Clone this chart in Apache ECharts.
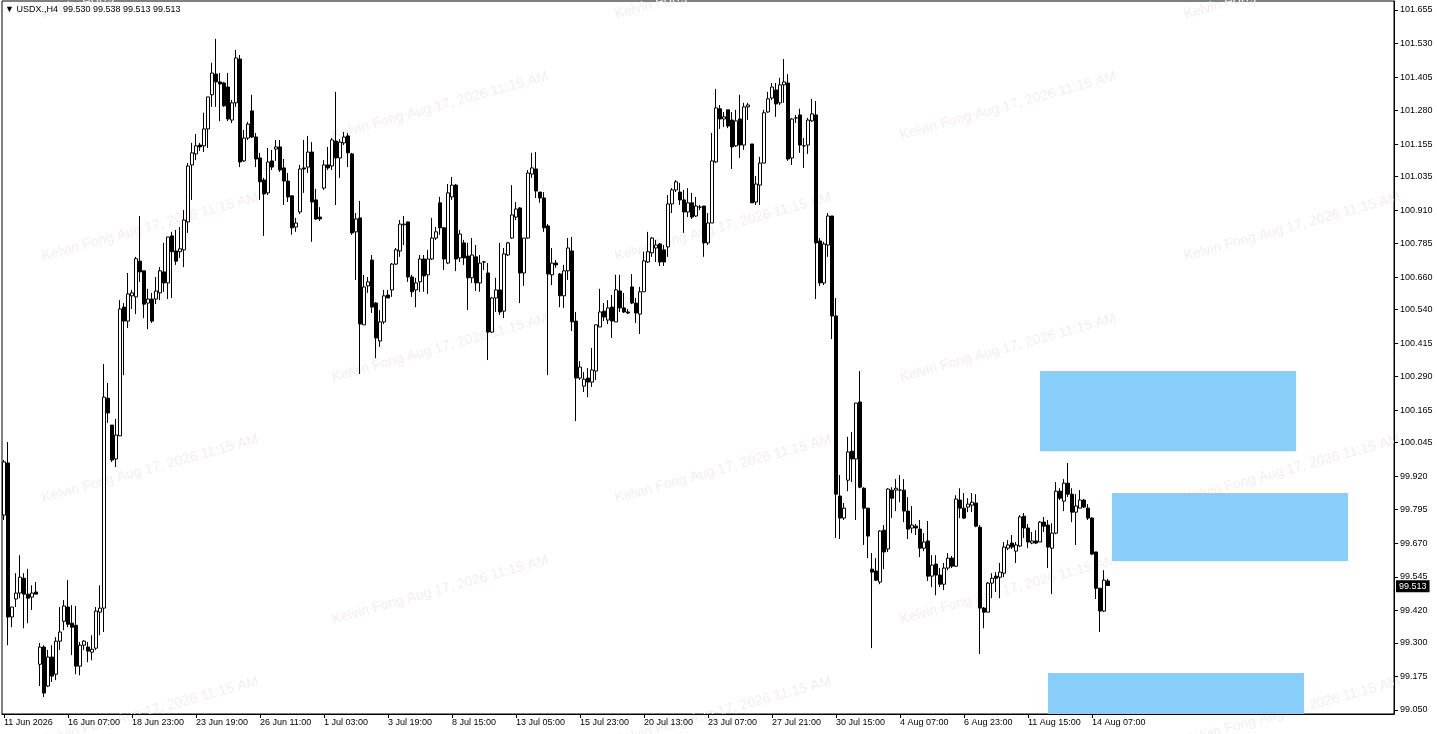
<!DOCTYPE html>
<html><head><meta charset="utf-8">
<script src="https://cdn.jsdelivr.net/npm/echarts@6/dist/echarts.min.js"></script>
<style>html,body{margin:0;padding:0;background:#fff}#c{width:1437px;height:734px}</style>
</head><body><div id="c"></div>
<script>
const openP=[99.775,99.969,99.396,99.463,99.485,99.540,99.481,99.470,99.489,99.220,99.284,99.139,99.247,99.183,99.306,99.380,99.433,99.373,99.365,99.213,99.291,99.284,99.265,99.280,99.414,99.429,100.210,100.110,99.984,100.070,100.549,100.497,100.591,100.587,100.720,100.684,100.564,100.579,100.579,100.602,100.680,100.639,100.814,100.758,100.755,100.762,100.866,101.078,101.119,101.152,101.149,101.212,101.339,101.416,101.387,101.383,101.368,101.245,101.309,101.472,101.093,101.178,101.279,101.182,101.104,101.022,100.974,101.093,101.137,101.145,101.067,101.018,100.963,100.847,100.903,101.067,101.070,101.126,100.948,100.884,100.992,101.078,101.074,101.167,101.104,101.160,101.186,101.119,100.829,100.881,100.483,100.628,100.724,100.564,100.423,100.494,100.594,100.613,100.709,100.758,100.855,100.866,100.661,100.613,100.643,100.728,100.669,100.728,100.806,100.937,100.844,100.713,100.959,101.003,100.732,100.788,100.739,100.658,100.736,100.639,100.717,100.676,100.456,100.583,100.613,100.534,100.743,100.806,100.884,100.918,100.676,100.806,101.044,101.063,100.977,100.955,100.851,100.669,100.713,100.672,100.591,100.684,100.758,100.497,100.285,100.255,100.285,100.270,100.311,100.475,100.534,100.501,100.549,100.494,100.609,100.546,100.531,100.624,100.564,100.523,100.606,100.717,100.751,100.769,100.784,100.762,100.773,100.933,100.985,100.977,100.948,100.903,100.937,100.888,100.921,100.925,100.788,100.862,101.089,101.287,101.249,101.283,101.245,101.149,101.249,101.152,101.294,101.156,100.940,101.003,101.085,101.275,101.327,101.357,101.309,101.376,101.383,101.104,101.253,101.264,101.149,101.152,101.242,101.264,100.795,100.639,100.780,100.888,100.516,99.846,99.764,99.905,100.013,99.984,100.196,99.875,99.801,99.574,99.567,99.526,99.719,99.649,99.868,99.868,99.868,99.868,99.790,99.727,99.734,99.723,99.652,99.679,99.548,99.593,99.552,99.518,99.578,99.615,99.585,99.831,99.801,99.805,99.812,99.820,99.730,99.429,99.414,99.522,99.548,99.544,99.559,99.652,99.671,99.641,99.660,99.771,99.727,99.671,99.679,99.675,99.749,99.738,99.652,99.708,99.864,99.827,99.894,99.853,99.786,99.801,99.831,99.801,99.764,99.638,99.503,99.418,99.530];
const closeP=[99.973,99.396,99.433,99.485,99.544,99.481,99.466,99.485,99.481,99.284,99.113,99.247,99.176,99.306,99.340,99.437,99.369,99.358,99.213,99.291,99.306,99.269,99.276,99.418,99.429,100.214,100.155,99.980,100.073,100.542,100.497,100.598,100.602,100.729,100.680,100.560,100.579,100.497,100.609,100.684,100.639,100.810,100.755,100.720,100.766,100.873,101.074,101.123,101.149,101.145,101.212,101.331,101.420,101.387,101.379,101.298,101.249,101.309,101.476,101.089,101.178,101.230,101.182,101.100,101.015,100.970,101.089,101.070,101.145,101.059,101.018,100.959,100.844,100.862,101.063,101.063,101.126,100.940,100.877,100.877,101.078,101.067,101.171,101.104,101.163,101.182,101.123,100.825,100.877,100.486,100.624,100.643,100.549,100.434,100.494,100.591,100.583,100.709,100.762,100.858,100.858,100.661,100.606,100.639,100.728,100.665,100.728,100.806,100.829,100.844,100.728,100.974,101.003,100.728,100.821,100.732,100.658,100.743,100.639,100.713,100.717,100.456,100.583,100.613,100.531,100.747,100.788,100.892,100.914,100.676,100.806,101.048,101.067,100.981,100.955,100.844,100.672,100.713,100.706,100.591,100.684,100.769,100.494,100.285,100.326,100.281,100.270,100.315,100.483,100.531,100.512,100.546,100.497,100.613,100.546,100.531,100.527,100.564,100.527,100.606,100.721,100.755,100.806,100.780,100.717,100.717,100.933,100.985,101.015,100.948,100.903,100.937,100.884,100.925,100.921,100.788,100.862,101.093,101.290,101.249,101.257,101.223,101.145,101.242,101.152,101.294,101.301,100.937,101.007,101.085,101.272,101.324,101.368,101.305,101.376,101.387,101.100,101.249,101.253,101.152,101.149,101.245,101.268,100.788,100.639,100.784,100.888,100.516,99.853,99.764,99.801,100.010,99.984,100.192,99.879,99.801,99.697,99.563,99.533,99.716,99.638,99.872,99.838,99.875,99.868,99.790,99.723,99.738,99.727,99.652,99.675,99.548,99.589,99.552,99.518,99.578,99.615,99.585,99.835,99.801,99.764,99.816,99.823,99.734,99.429,99.414,99.522,99.540,99.540,99.563,99.656,99.664,99.656,99.664,99.768,99.727,99.675,99.679,99.671,99.749,99.734,99.656,99.708,99.864,99.838,99.894,99.853,99.786,99.809,99.831,99.805,99.764,99.630,99.503,99.418,99.533,99.513];
const lowP=[99.757,99.291,99.358,99.433,99.466,99.354,99.373,99.422,99.481,99.139,99.098,99.135,99.154,99.161,99.273,99.347,99.358,99.254,99.183,99.179,99.273,99.228,99.235,99.273,99.328,99.340,100.118,99.973,99.954,100.070,100.296,100.471,100.542,100.523,100.643,100.508,100.467,100.490,100.560,100.575,100.606,100.579,100.583,100.706,100.732,100.698,100.825,100.948,101.096,101.130,101.126,101.141,101.294,101.294,101.241,101.294,101.241,101.234,101.294,101.070,101.089,101.171,101.178,101.070,100.948,100.814,100.966,101.059,101.093,101.052,100.929,100.940,100.818,100.829,100.895,100.974,101.048,100.792,100.873,100.869,100.985,101.059,101.059,100.929,101.030,101.152,101.070,100.818,100.650,100.300,100.483,100.602,100.527,100.359,100.401,100.486,100.583,100.587,100.706,100.736,100.780,100.643,100.587,100.549,100.606,100.606,100.598,100.724,100.799,100.818,100.687,100.709,100.948,100.683,100.717,100.706,100.538,100.639,100.609,100.606,100.687,100.352,100.453,100.531,100.520,100.508,100.739,100.803,100.873,100.564,100.628,100.803,101.030,100.955,100.937,100.829,100.296,100.631,100.695,100.549,100.546,100.650,100.460,100.125,100.278,100.233,100.214,100.252,100.278,100.475,100.497,100.486,100.434,100.494,100.531,100.527,100.523,100.560,100.490,100.449,100.606,100.713,100.736,100.717,100.702,100.702,100.736,100.899,100.977,100.929,100.825,100.884,100.877,100.884,100.910,100.736,100.780,100.862,101.085,101.212,101.219,101.215,101.063,101.145,101.104,101.134,101.245,100.937,100.929,100.929,101.085,101.272,101.320,101.257,101.301,101.309,101.093,101.078,101.234,101.123,101.067,101.119,101.238,100.579,100.628,100.631,100.736,100.430,99.690,99.686,99.757,99.864,99.898,99.757,99.875,99.664,99.615,99.280,99.530,99.518,99.574,99.638,99.764,99.790,99.823,99.749,99.686,99.708,99.701,99.619,99.641,99.530,99.507,99.477,99.507,99.496,99.570,99.578,99.582,99.764,99.760,99.786,99.786,99.730,99.258,99.354,99.414,99.466,99.489,99.466,99.544,99.645,99.649,99.597,99.656,99.690,99.652,99.667,99.667,99.675,99.712,99.578,99.481,99.704,99.831,99.790,99.842,99.749,99.664,99.801,99.801,99.757,99.626,99.463,99.340,99.414,99.513];
const highP=[99.980,100.047,99.433,99.559,99.626,99.559,99.575,99.514,99.526,99.299,99.291,99.273,99.291,99.321,99.433,99.459,99.533,99.440,99.437,99.303,99.310,99.303,99.328,99.433,99.514,100.337,100.267,100.110,100.133,100.575,100.564,100.676,100.613,100.736,100.888,100.684,100.617,100.602,100.661,100.698,100.788,100.810,100.829,100.836,100.847,100.910,101.085,101.160,101.193,101.160,101.272,101.331,101.458,101.547,101.420,101.387,101.420,101.320,101.506,101.487,101.208,101.238,101.339,101.197,101.123,101.030,101.141,101.134,101.171,101.171,101.100,101.048,100.966,100.881,101.078,101.171,101.186,101.163,100.989,100.921,101.096,101.145,101.178,101.350,101.174,101.201,101.197,101.123,100.899,100.944,100.669,100.661,100.743,100.568,100.538,100.613,100.613,100.713,100.769,100.873,100.888,100.866,100.669,100.658,100.743,100.743,100.762,100.881,100.847,100.959,100.847,101.007,101.033,101.007,100.836,100.799,100.788,100.806,100.780,100.743,100.721,100.713,100.587,100.658,100.788,100.769,100.792,101.003,100.940,100.921,100.806,101.059,101.123,101.126,100.977,100.977,100.858,100.769,100.724,100.676,100.706,100.806,100.810,100.531,100.348,100.307,100.322,100.397,100.483,100.617,100.564,100.575,100.594,100.669,100.669,100.602,100.542,100.672,100.583,100.624,100.755,100.829,100.810,100.799,100.788,100.780,100.966,100.992,101.022,101.011,100.985,100.992,100.974,100.959,100.929,100.925,100.899,101.197,101.361,101.301,101.275,101.283,101.275,101.283,101.339,101.309,101.309,101.156,101.037,101.108,101.283,101.350,101.383,101.383,101.402,101.472,101.416,101.253,101.264,101.287,101.178,101.253,101.324,101.316,100.806,100.792,100.899,100.888,100.583,99.924,99.820,100.066,100.084,100.192,100.311,99.879,99.801,99.634,99.615,99.719,99.738,99.875,99.879,99.909,99.924,99.909,99.842,99.809,99.742,99.757,99.708,99.753,99.626,99.626,99.578,99.597,99.634,99.623,99.849,99.875,99.857,99.838,99.857,99.853,99.738,99.433,99.526,99.559,99.563,99.597,99.675,99.682,99.701,99.675,99.775,99.783,99.742,99.712,99.719,99.753,99.768,99.757,99.745,99.898,99.875,99.909,99.969,99.875,99.853,99.868,99.835,99.816,99.768,99.638,99.503,99.570,99.538];

const slotCount = 348;
const categories = Array.from({length: slotCount}, (_, i) => String(i));
const xTickIdx = [0,16,32,48,64,80,96,112,128,144,160,176,192,208,224,240,256,272];
const xTickLabels = ['11 Jun 2026','16 Jun 07:00','18 Jun 23:00','23 Jun 19:00','26 Jun 11:00','1 Jul 03:00','3 Jul 19:00','8 Jul 15:00','13 Jul 05:00','15 Jul 23:00','20 Jul 13:00','23 Jul 07:00','27 Jul 21:00','30 Jul 15:00','4 Aug 07:00','6 Aug 23:00','11 Aug 15:00','14 Aug 07:00'];
const yTicks = [101.655,101.530,101.405,101.280,101.155,101.035,100.910,100.785,100.660,100.540,100.415,100.290,100.165,100.045,99.920,99.795,99.670,99.545,99.420,99.300,99.175,99.050];
const yMin = 99.035, yMax = 101.688;

const zoneLeft = [259, 277, 261];
const zoneRight = [323, 336, 325];
const zoneTop = [100.311, 99.857, 99.188];
const zoneBottom = [100.013, 99.604, yMin];

const header = '\u25BC USDX.,H4  99.530 99.538 99.513 99.513';
const lastPrice = 99.513;
const watermark = 'Kelvin Fong Aug 17, 2026 11:15 AM';

const candles = openP.map((o, i) => [o, closeP[i], lowP[i], highP[i]]);

const wm = [];
const rows = [-15, 106, 227, 348, 469, 590, 711];
rows.forEach((y, r) => {
  const xs = (r % 2 === 1) ? [440, 1008] : [150, 723, 1292];
  xs.forEach(x => wm.push({
    type: 'text', x: x, y: y, rotation: 0.27, z: 0, silent: true,
    style: { text: watermark, fill: '#f4eded', font: '14px "Liberation Sans", Arial, sans-serif', align: 'center', verticalAlign: 'middle' }
  }));
});

const chart = echarts.init(document.getElementById('c'));
const fontFam = '"Liberation Sans", Arial, sans-serif';
chart.setOption({
  animation: false,
  backgroundColor: '#ffffff',
  textStyle: { fontFamily: fontFam },
  title: { text: header, left: 5, top: 5, padding: 0,
    textStyle: { fontSize: 9, fontWeight: 'normal', color: '#000', fontFamily: fontFam } },
  graphic: wm,
  grid: { left: 2, top: 1, width: 1392, height: 713, show: true, borderColor: '#000', borderWidth: 1, backgroundColor: 'transparent' },
  xAxis: {
    type: 'category', data: categories, boundaryGap: true,
    axisLine: { show: true, lineStyle: { color: '#000', width: 1 } },
    axisTick: { show: true, alignWithLabel: true, length: 4, lineStyle: { color: '#000' },
      interval: (idx) => xTickIdx.includes(idx) },
    axisLabel: { show: true, color: '#000', fontSize: 9, fontFamily: fontFam, align: 'left', margin: 4,
      interval: (idx) => xTickIdx.includes(idx),
      formatter: (v, idx) => { const k = xTickIdx.indexOf(idx); return k >= 0 ? xTickLabels[k] : ''; } },
    splitLine: { show: false }
  },
  yAxis: {
    type: 'value', position: 'right', min: yMin, max: yMax, scale: true,
    axisLine: { show: true, lineStyle: { color: '#000', width: 1 } },
    axisTick: { show: true, length: 4, lineStyle: { color: '#000' }, customValues: yTicks },
    axisLabel: { show: true, color: '#000', fontSize: 9, fontFamily: fontFam, margin: 6, customValues: yTicks,
      formatter: (v) => v.toFixed(3) },
    splitLine: { show: false }
  },
  series: [{
    type: 'candlestick',
    data: candles,
    barWidth: 3,
    itemStyle: { color: '#ffffff', color0: '#000000', borderColor: '#000000', borderColor0: '#000000', borderWidth: 1 },
    markArea: {
      silent: true,
      itemStyle: { color: '#87CEFA', opacity: 1 },
      data: zoneLeft.map((l, i) => [{ xAxis: l, yAxis: zoneTop[i] }, { xAxis: zoneRight[i], yAxis: zoneBottom[i] }])
    },
    markLine: {
      silent: true, symbol: ['none', 'none'],
      lineStyle: { color: 'rgba(0,0,0,0)', width: 1, type: 'solid' },
      label: { show: true, position: 'end', distance: 2, formatter: lastPrice.toFixed(3), color: '#ffffff',
        backgroundColor: '#000000', padding: [2, 3, 1, 3], fontSize: 9, fontFamily: fontFam, opacity: 1 },
      emphasis: { disabled: true },
      data: [{ yAxis: lastPrice }]
    }
  }]
});
</script></body></html>
